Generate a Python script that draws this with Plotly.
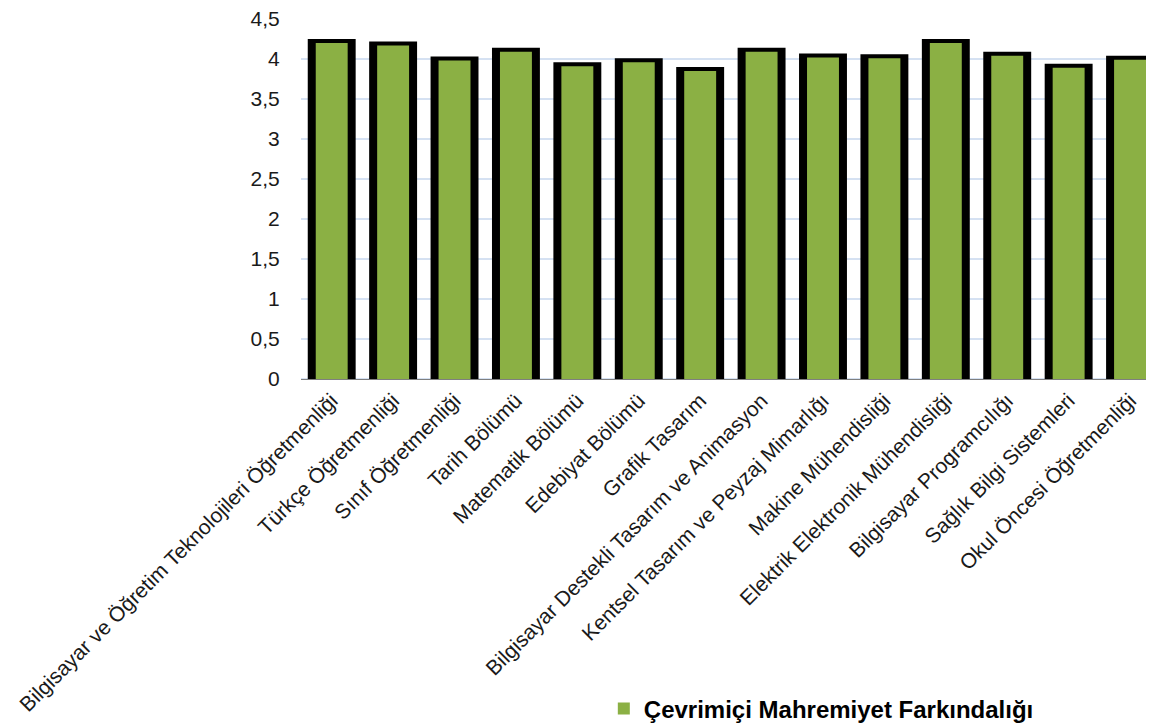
import plotly.graph_objects as go

categories = [
    "Bilgisayar ve Öğretim Teknolojileri Öğretmenliği",
    "Türkçe Öğretmenliği",
    "Sınıf Öğretmenliği",
    "Tarih Bölümü",
    "Matematik Bölümü",
    "Edebiyat Bölümü",
    "Grafik Tasarım",
    "Bilgisayar Destekli Tasarım ve Animasyon",
    "Kentsel Tasarım ve Peyzaj Mimarlığı",
    "Makine Mühendisliği",
    "Elektrik Elektronik Mühendisliği",
    "Bilgisayar Programcılığı",
    "Sağlık Bilgi Sistemleri",
    "Okul Öncesi Öğretmenliği",
]
values = [4.20, 4.17, 3.98, 4.09, 3.91, 3.96, 3.85, 4.09, 4.02, 4.01, 4.20, 4.04, 3.89, 3.99]
series_name = "Çevrimiçi Mahremiyet Farkındalığı"
y_ticks = [0, 0.5, 1, 1.5, 2, 2.5, 3, 3.5, 4, 4.5]
y_tick_text = ["0", "0,5", "1", "1,5", "2", "2,5", "3", "3,5", "4", "4,5"]

FONT = "Liberation Sans, Arial, sans-serif"

fig = go.Figure()
# black frame behind
fig.add_trace(go.Bar(
    x=categories, y=values, width=0.65,
    marker=dict(color="#000000", line=dict(color="#000000", width=8)),
    showlegend=False, hoverinfo="skip",
))
# green fill
fig.add_trace(go.Bar(
    x=categories, y=values, width=0.52, name=series_name,
    marker=dict(color="#8BB044", line=dict(width=0)),
))

fig.update_layout(
    barmode="overlay",
    width=1154, height=727,
    margin=dict(l=293, r=8, t=11, b=356, autoexpand=False),
    plot_bgcolor="white", paper_bgcolor="white",
    font=dict(family=FONT, color="#000000"),
    showlegend=True,
    legend=dict(
        orientation="h", x=0.355, xanchor="left", y=-0.9165, yanchor="middle",
        font=dict(family=FONT, size=24, color="#000000", weight="bold"),
        itemwidth=30,
    ),
)
fig.update_yaxes(
    range=[0, 4.5], tickvals=y_ticks, ticktext=y_tick_text,
    showgrid=True, gridcolor="#D5E1F2", gridwidth=2,
    zeroline=True, zerolinecolor="#D5E1F2", zerolinewidth=2,
    ticks="outside", ticklen=16, tickcolor="rgba(0,0,0,0)",
    tickfont=dict(family=FONT, size=21, color="#1a1a1a"),
    ticklabeloverflow="allow", automargin=False,
    showline=False,
)
fig.update_xaxes(
    range=[-0.5, 13.39], automargin=False,
    tickangle=-45, tickfont=dict(family=FONT, size=21, color="#1a1a1a"),
    showline=True, linecolor="#7f7f7f", linewidth=1,
    ticks="", showgrid=False,
)

fig.write_html("out.html")
